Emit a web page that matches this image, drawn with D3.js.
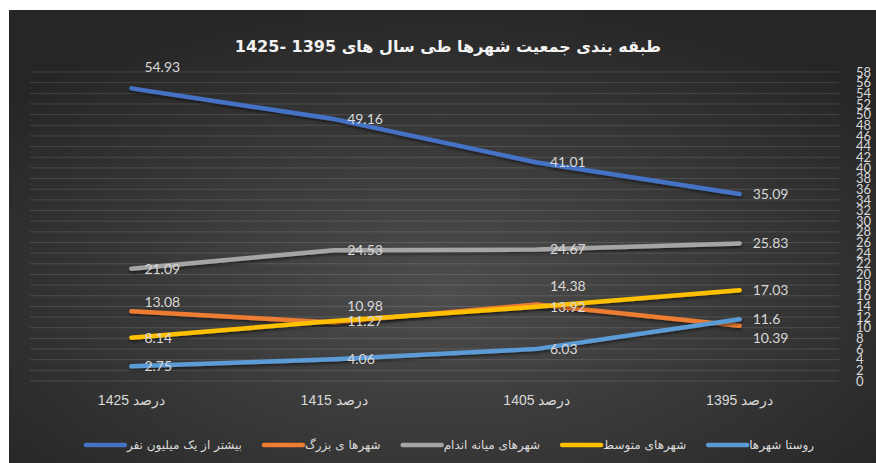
<!DOCTYPE html>
<html>
<head>
<meta charset="utf-8">
<script src="https://cdn.jsdelivr.net/npm/d3@7"></script>
<style>
  body { margin: 0; background: #ffffff; }
  svg { display: block; }
</style>
</head>
<body>
<div id="chart"></div>
<script>
// Chart data
var categories = ["درصد 1425", "درصد 1415", "درصد 1405", "درصد 1395"];
var seriesNames = ["بیشتر از یک میلیون نفر", "شهرها ی بزرگ", "شهرهای میانه اندام", "شهرهای متوسط", "روستا شهرها"];
var millionPlus = [54.93, 49.16, 41.01, 35.09];
var bigCities = [13.08, 10.98, 14.38, 10.39];
var midCities = [21.09, 24.53, 24.67, 25.83];
var mediumCities = [8.14, 11.27, 13.92, 17.03];
var ruralCities = [2.75, 4.06, 6.03, 11.6];
var yTicks = d3.range(0, 59, 2);

var colors = ["#4472C4", "#ED7D31", "#A5A5A5", "#FFC000", "#5B9BD5"];
var allSeries = [millionPlus, bigCities, midCities, mediumCities, ruralCities];

// vertical nudges for overlapping labels (series-point -> px)
var labelNudge = {"0-0": -21, "1-0": -9, "1-1": -16, "1-2": -18, "1-3": 12};

var svgWidth = 876;
var svgHeight = 463;

var svg = d3.select("#chart")
  .append("svg")
  .attr("width", svgWidth)
  .attr("height", svgHeight);

// Background gradient
var defs = svg.append("defs");
var grad = defs.append("radialGradient")
  .attr("id", "bg")
  .attr("cx", "50%").attr("cy", "62%").attr("r", "65%");
grad.append("stop").attr("offset", "0%").attr("stop-color", "#4d4d4d");
grad.append("stop").attr("offset", "100%").attr("stop-color", "#262626");

var shadow = defs.append("filter").attr("id", "shadow")
  .attr("x", "-10%").attr("y", "-30%").attr("width", "120%").attr("height", "160%");
shadow.append("feDropShadow")
  .attr("dx", 0).attr("dy", 2).attr("stdDeviation", 1.5)
  .attr("flood-color", "#000").attr("flood-opacity", 0.5);

svg.append("rect")
  .attr("x", 9).attr("y", 10)
  .attr("width", svgWidth - 9).attr("height", svgHeight - 10)
  .attr("fill", "url(#bg)");

// Plot area
var plot = {left: 30, right: 841, top: 72, bottom: 381};

var xScale = d3.scalePoint()
  .domain(d3.range(categories.length))
  .range([plot.left, plot.right])
  .padding(0.5);

var yScale = d3.scaleLinear()
  .domain([0, 58])
  .range([plot.bottom, plot.top]);

// Gridlines
svg.append("g")
  .selectAll("line")
  .data(yTicks)
  .enter()
  .append("line")
  .attr("x1", plot.left)
  .attr("x2", 839)
  .attr("y1", d => yScale(d))
  .attr("y2", d => yScale(d))
  .attr("stroke", "rgba(255,255,255,0.13)")
  .attr("stroke-width", 1);

// Right axis
var yAxis = svg.append("g")
  .attr("transform", "translate(856,0)")
  .call(d3.axisRight(yScale).tickValues(yTicks).tickSize(0).tickPadding(0));
yAxis.select(".domain").remove();
yAxis.selectAll("text")
  .attr("fill", "#d9d9d9")
  .style("font-family", "Lato, 'Open Sans', sans-serif")
  .style("font-size", "13px");

// X labels
svg.append("g")
  .selectAll("text")
  .data(categories)
  .enter()
  .append("text")
  .attr("x", (d, i) => xScale(i))
  .attr("y", 400)
  .attr("dy", "0.35em")
  .attr("text-anchor", "middle")
  .style("direction", "rtl")
  .style("font-family", "'Liberation Sans', Arial, sans-serif")
  .style("font-size", "14px")
  .attr("fill", "#d9d9d9")
  .text(d => d);

// Lines
var line = d3.line()
  .x((d, i) => xScale(i))
  .y(d => yScale(d));

svg.append("g")
  .selectAll("path")
  .data(allSeries)
  .enter()
  .append("path")
  .attr("d", line)
  .attr("fill", "none")
  .attr("stroke", (d, i) => colors[i])
  .attr("stroke-width", 4.5)
  .attr("stroke-linecap", "round")
  .attr("stroke-linejoin", "round")
  .attr("filter", "url(#shadow)");

// Data labels
allSeries.forEach(function(values, s) {
  svg.append("g")
    .selectAll("text")
    .data(values)
    .enter()
    .append("text")
    .attr("x", (d, i) => xScale(i) + 13)
    .attr("y", (d, i) => yScale(d) + (labelNudge[s + "-" + i] || 0))
    .attr("dy", "0.35em")
    .style("font-family", "Lato, 'Open Sans', sans-serif")
    .style("font-size", "14px")
    .attr("fill", "#d9d9d9")
    .text(d => d);
});

// Title
svg.append("text")
  .attr("x", 448)
  .attr("y", 46)
  .attr("dy", "0.35em")
  .attr("text-anchor", "middle")
  .style("direction", "rtl")
  .style("font-family", "'DejaVu Sans', sans-serif")
  .style("font-weight", "bold")
  .style("font-size", "16px")
  .attr("fill", "#f2f2f2")
  .text("طبقه بندی جمعیت شهرها طی سال های 1395 -1425");

// Legend
var legendItems = svg.append("g")
  .selectAll("g")
  .data(seriesNames)
  .enter()
  .append("g");

legendItems.append("text")
  .attr("y", 445)
  .attr("dy", "0.35em")
  .attr("text-anchor", "start")
  .style("font-family", "'DejaVu Sans', sans-serif")
  .style("font-size", "12px")
  .attr("fill", "#d9d9d9")
  .text(d => d);

var cursor = 0;
var gap = 22, swatch = 39;
var positions = [];
legendItems.each(function() {
  var w = d3.select(this).select("text").node().getComputedTextLength();
  positions.push({x: cursor, w: w});
  cursor += swatch + 2 + w + gap;
});
var total = cursor - gap;
var startX = 450 - total / 2;

legendItems.each(function(d, i) {
  var g = d3.select(this);
  var p = positions[i];
  g.insert("line", "text")
    .attr("x1", startX + p.x)
    .attr("x2", startX + p.x + swatch)
    .attr("y1", 445)
    .attr("y2", 445)
    .attr("stroke", colors[i])
    .attr("stroke-width", 4.5)
    .attr("stroke-linecap", "round");
  g.select("text")
    .attr("x", startX + p.x + swatch + 2);
});
</script>
</body>
</html>
